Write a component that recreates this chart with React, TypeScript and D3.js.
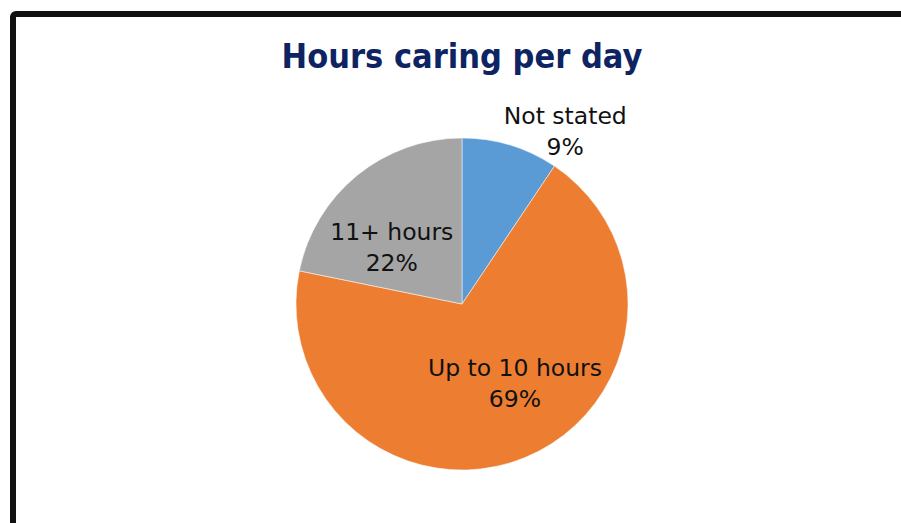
import React, { useRef, useEffect } from 'react'
import * as d3 from 'd3'

const categories = ['Not stated', 'Up to 10 hours', '11+ hours']
const values = [9.4, 68.8, 21.8]
const colors = ['#5B9BD5', '#ED7D31', '#A5A5A5']
const title = 'Hours caring per day'

const W = 901
const H = 523

const App = () => {
  const container = useRef<SVGSVGElement>(null)

  useEffect(() => {
    const svg = d3.select(container.current)
    svg.selectAll('*').remove()

    const cx = 462
    const cy = 304
    const r = 166

    // frame
    svg.append('rect')
      .attr('x', 13)
      .attr('y', 14)
      .attr('width', W)
      .attr('height', H)
      .attr('rx', 3)
      .style('fill', '#fff')
      .style('stroke', '#111')
      .style('stroke-width', 6)

    svg.append('text')
      .attr('x', cx)
      .attr('y', 68)
      .attr('text-anchor', 'middle')
      .style('font-family', "'DejaVu Sans Condensed', 'DejaVu Sans', sans-serif")
      .style('font-weight', 700)
      .style('font-size', '34px')
      .style('fill', '#0E2462')
      .text(title)

    const data = categories.map((c, i) => ({ name: c, value: values[i], color: colors[i] }))
    const total = d3.sum(values)

    const pie = d3.pie<any>().sort(null).value(d => d.value)
    const arc = d3.arc<any>().innerRadius(0).outerRadius(r)
    const arcs = pie(data)

    const g = svg.append('g').attr('transform', `translate(${cx}, ${cy})`)

    g.selectAll('path')
      .data(arcs)
      .enter()
      .append('path')
        .attr('d', arc)
        .style('fill', d => d.data.color)
        .style('stroke', '#fff')
        .style('stroke-width', 0.5)

    // label placement: inside for big slices, outside for the small one
    const inner = d3.arc<any>().innerRadius(100).outerRadius(100)
    const outer = d3.arc<any>().innerRadius(r + 10).outerRadius(r + 10)
    const nudge: Record<string, [number, number]> = {
      'Not stated': [52, 3.5],
      'Up to 10 hours': [15, -5.5],
      '11+ hours': [-7, 28.5],
    }
    const fmt = d3.format('.0%')

    const labels = g.selectAll('g.lbl')
      .data(arcs)
      .enter()
      .append('text')
        .attr('transform', d => {
          const [x, y] = (d.value / total < 0.15 ? outer : inner).centroid(d)
          const [dx, dy] = nudge[d.data.name]
          return `translate(${x + dx}, ${y + dy})`
        })
        .attr('text-anchor', 'middle')
        .style('font-family', "'DejaVu Sans', sans-serif")
        .style('font-size', '23.5px')
        .style('fill', '#111')

    labels.append('tspan')
      .attr('x', 0)
      .attr('y', -15)
      .text(d => d.data.name)

    labels.append('tspan')
      .attr('x', 0)
      .attr('y', 16)
      .text(d => fmt(d.data.value / total))
  }, [])

  return (
    <svg
      ref={container}
      width={W}
      height={H}
      style={{ position: 'absolute', left: 0, top: 0, background: '#fff' }}
    />
  )
}

export default App
